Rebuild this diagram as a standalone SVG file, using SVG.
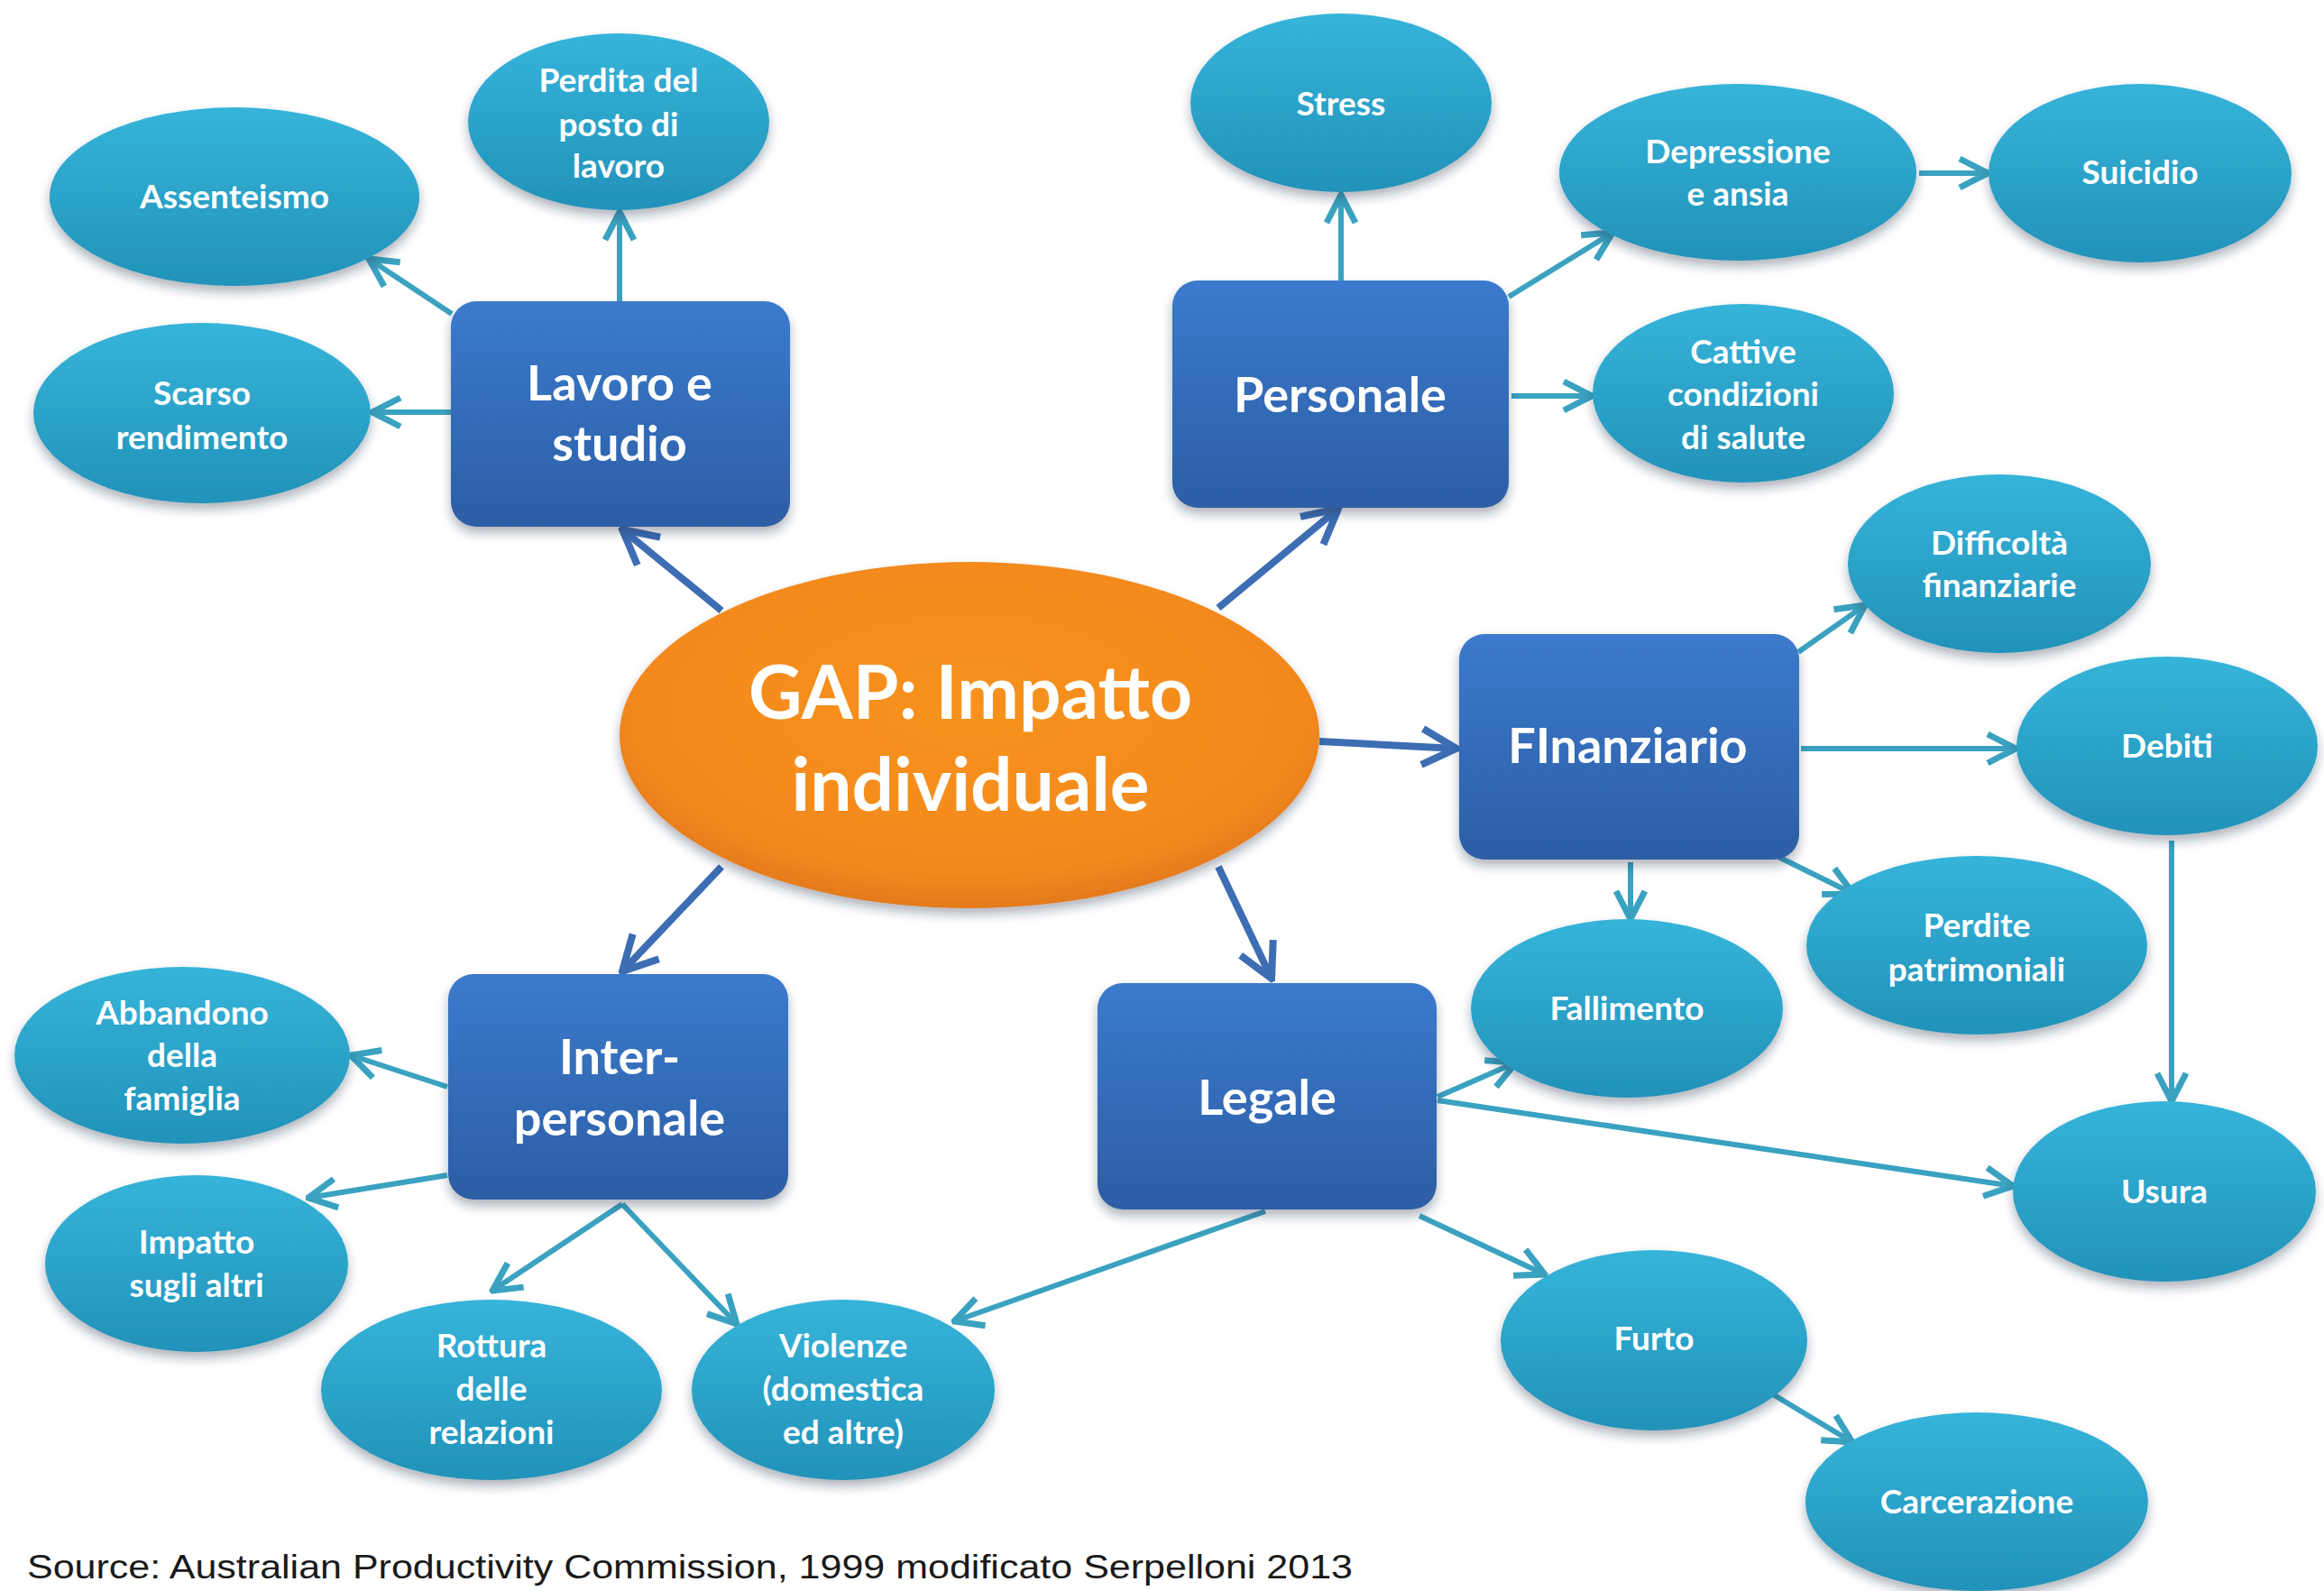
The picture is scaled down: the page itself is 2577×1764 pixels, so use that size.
<svg xmlns="http://www.w3.org/2000/svg" width="2577" height="1764" viewBox="0 0 2577 1764">
  <defs>
    <linearGradient id="gEll" x1="0" y1="0" x2="0" y2="1">
      <stop offset="0" stop-color="#36b4da"/>
      <stop offset="1" stop-color="#2292b9"/>
    </linearGradient>
    <linearGradient id="gBox" x1="0" y1="0" x2="0" y2="1">
      <stop offset="0" stop-color="#3b7acd"/>
      <stop offset="1" stop-color="#2d5ea5"/>
    </linearGradient>
    <radialGradient id="gHub" cx="0.5" cy="0.42" r="0.6">
      <stop offset="0" stop-color="#f7921f"/>
      <stop offset="0.8" stop-color="#f3891f"/>
      <stop offset="1" stop-color="#e0761b"/>
    </radialGradient>
    <filter id="shadow" x="-20%" y="-20%" width="140%" height="150%">
      <feDropShadow dx="0" dy="7" stdDeviation="6" flood-color="#1b2b40" flood-opacity="0.35"/>
    </filter>
    <marker id="arrBlue" markerUnits="userSpaceOnUse" viewBox="0 0 48 48" markerWidth="48" markerHeight="48" refX="44" refY="24" orient="auto">
      <path d="M6,4 L44,24 L6,44" fill="none" stroke="#3d6db3" stroke-width="8" stroke-linejoin="miter"/>
    </marker>
    <marker id="arrTeal" markerUnits="userSpaceOnUse" viewBox="0 0 40 40" markerWidth="40" markerHeight="40" refX="37" refY="20" orient="auto">
      <path d="M6,4 L37,20 L6,36" fill="none" stroke="#3aa2c0" stroke-width="7" stroke-linejoin="miter"/>
    </marker>
  </defs>
  <style>
    .ell { fill: url(#gEll); filter: url(#shadow); }
    .box { fill: url(#gBox); filter: url(#shadow); }
    .hub { fill: url(#gHub); filter: url(#shadow); }
    .lbl { font-family: Lato, "Open Sans", "DejaVu Sans", sans-serif; font-weight: 700; fill: #ffffff; text-anchor: middle; font-size: 37px; }
    .big { font-size: 54px; }
    .hubt { font-size: 82px; }
    .cb { fill: none; stroke: #3d6db3; stroke-width: 8; marker-end: url(#arrBlue); }
    .ct { fill: none; stroke: #3aa2c0; stroke-width: 6; marker-end: url(#arrTeal); }
    .src { font-family: "Liberation Sans", Arial, sans-serif; font-size: 36px; fill: #1a1a1a; }
  </style>

  <rect width="2577" height="1764" fill="#ffffff"/>

  <!-- connectors -->
  <g id="connectors">
    <!-- hub to categories -->
    <line class="cb" x1="800" y1="677" x2="690" y2="587"/>
    <line class="cb" x1="1351" y1="674" x2="1484" y2="564"/>
    <line class="cb" x1="1463" y1="822" x2="1615" y2="830"/>
    <line class="cb" x1="1351" y1="961" x2="1410" y2="1085"/>
    <line class="cb" x1="800" y1="961" x2="690" y2="1077"/>
    <!-- Lavoro e studio -->
    <line class="ct" x1="501" y1="348" x2="409" y2="287"/>
    <line class="ct" x1="687" y1="334" x2="687" y2="235"/>
    <line class="ct" x1="500" y1="457" x2="413" y2="457"/>
    <!-- Personale -->
    <line class="ct" x1="1487" y1="312" x2="1487" y2="216"/>
    <line class="ct" x1="1673" y1="329" x2="1788" y2="258"/>
    <line class="ct" x1="1676" y1="439" x2="1765" y2="439"/>
    <line class="ct" x1="2128" y1="192" x2="2204" y2="192"/>
    <!-- Finanziario -->
    <line class="ct" x1="1994" y1="723" x2="2068" y2="671"/>
    <line class="ct" x1="1997" y1="830" x2="2235" y2="830"/>
    <line class="ct" x1="1808" y1="956" x2="1808" y2="1019"/>
    <line class="ct" x1="1972" y1="950" x2="2055" y2="991"/>
    <line class="ct" x1="2408" y1="932" x2="2408" y2="1221"/>
    <!-- Legale -->
    <line class="ct" x1="1594" y1="1216" x2="1681" y2="1178"/>
    <line class="ct" x1="1594" y1="1220" x2="2232" y2="1315"/>
    <line class="ct" x1="1574" y1="1348" x2="1713" y2="1413"/>
    <line class="ct" x1="1403" y1="1343" x2="1058" y2="1465"/>
    <line class="ct" x1="1956" y1="1540" x2="2054" y2="1599"/>
    <!-- Inter-personale -->
    <line class="ct" x1="496" y1="1205" x2="389" y2="1170"/>
    <line class="ct" x1="496" y1="1303" x2="342" y2="1328"/>
    <line class="ct" x1="690" y1="1335" x2="546" y2="1431"/>
    <line class="ct" x1="690" y1="1335" x2="817" y2="1468"/>
  </g>

  <!-- central node -->
  <g id="hub">
    <ellipse class="hub" cx="1075" cy="815" rx="388" ry="192"/>
    <text class="lbl hubt" x="1076" y="797">GAP: Impatto</text>
    <text class="lbl hubt" x="1076" y="899">individuale</text>
  </g>

  <!-- category boxes -->
  <g id="lavoro">
    <rect class="box" x="500" y="334" width="376" height="250" rx="28"/>
    <text class="lbl big" x="687" y="444">Lavoro e</text>
    <text class="lbl big" x="687" y="511">studio</text>
  </g>
  <g id="personale">
    <rect class="box" x="1300" y="311" width="373" height="252" rx="28"/>
    <text class="lbl big" x="1486" y="457">Personale</text>
  </g>
  <g id="finanziario">
    <rect class="box" x="1618" y="703" width="377" height="250" rx="28"/>
    <text class="lbl big" x="1805" y="846">FInanziario</text>
  </g>
  <g id="legale">
    <rect class="box" x="1217" y="1090" width="376" height="251" rx="28"/>
    <text class="lbl big" x="1405" y="1236">Legale</text>
  </g>
  <g id="interpersonale">
    <rect class="box" x="497" y="1080" width="377" height="250" rx="28"/>
    <text class="lbl big" x="687" y="1191">Inter-</text>
    <text class="lbl big" x="687" y="1259">personale</text>
  </g>

  <!-- effect nodes -->
  <g id="assenteismo">
    <ellipse class="ell" cx="260" cy="218" rx="205" ry="99"/>
    <text class="lbl" x="260" y="231">Assenteismo</text>
  </g>
  <g id="perdita-lavoro">
    <ellipse class="ell" cx="686" cy="135" rx="167" ry="98"/>
    <text class="lbl" x="686" y="102">Perdita del</text>
    <text class="lbl" x="686" y="151">posto di</text>
    <text class="lbl" x="686" y="197">lavoro</text>
  </g>
  <g id="scarso-rendimento">
    <ellipse class="ell" cx="224" cy="458" rx="187" ry="100"/>
    <text class="lbl" x="224" y="449">Scarso</text>
    <text class="lbl" x="224" y="498">rendimento</text>
  </g>
  <g id="stress">
    <ellipse class="ell" cx="1487" cy="114" rx="167" ry="99"/>
    <text class="lbl" x="1487" y="128">Stress</text>
  </g>
  <g id="depressione">
    <ellipse class="ell" cx="1927" cy="191" rx="198" ry="98"/>
    <text class="lbl" x="1927" y="181">Depressione</text>
    <text class="lbl" x="1927" y="228">e ansia</text>
  </g>
  <g id="suicidio">
    <ellipse class="ell" cx="2373" cy="192" rx="168" ry="99"/>
    <text class="lbl" x="2373" y="204">Suicidio</text>
  </g>
  <g id="cattive-condizioni">
    <ellipse class="ell" cx="1933" cy="436" rx="167" ry="99"/>
    <text class="lbl" x="1933" y="403">Cattive</text>
    <text class="lbl" x="1933" y="450">condizioni</text>
    <text class="lbl" x="1933" y="498">di salute</text>
  </g>
  <g id="difficolta">
    <ellipse class="ell" cx="2217" cy="625" rx="168" ry="99"/>
    <text class="lbl" x="2217" y="615">Difficoltà</text>
    <text class="lbl" x="2217" y="662">finanziarie</text>
  </g>
  <g id="debiti">
    <ellipse class="ell" cx="2403" cy="827" rx="167" ry="99"/>
    <text class="lbl" x="2403" y="840">Debiti</text>
  </g>
  <g id="perdite-patrimoniali">
    <ellipse class="ell" cx="2192" cy="1048" rx="189" ry="99"/>
    <text class="lbl" x="2192" y="1039">Perdite</text>
    <text class="lbl" x="2192" y="1088">patrimoniali</text>
  </g>
  <g id="fallimento">
    <ellipse class="ell" cx="1804" cy="1118" rx="173" ry="99"/>
    <text class="lbl" x="1804" y="1131">Fallimento</text>
  </g>
  <g id="usura">
    <ellipse class="ell" cx="2400" cy="1321" rx="168" ry="100"/>
    <text class="lbl" x="2400" y="1334">Usura</text>
  </g>
  <g id="furto">
    <ellipse class="ell" cx="1834" cy="1486" rx="170" ry="100"/>
    <text class="lbl" x="1834" y="1497">Furto</text>
  </g>
  <g id="carcerazione">
    <ellipse class="ell" cx="2192" cy="1665" rx="190" ry="99"/>
    <text class="lbl" x="2192" y="1678">Carcerazione</text>
  </g>
  <g id="abbandono">
    <ellipse class="ell" cx="202" cy="1170" rx="186" ry="98"/>
    <text class="lbl" x="202" y="1136">Abbandono</text>
    <text class="lbl" x="202" y="1183">della</text>
    <text class="lbl" x="202" y="1231">famiglia</text>
  </g>
  <g id="impatto-altri">
    <ellipse class="ell" cx="218" cy="1401" rx="168" ry="98"/>
    <text class="lbl" x="218" y="1390">Impatto</text>
    <text class="lbl" x="218" y="1438">sugli altri</text>
  </g>
  <g id="rottura">
    <ellipse class="ell" cx="545" cy="1541" rx="189" ry="100"/>
    <text class="lbl" x="545" y="1505">Rottura</text>
    <text class="lbl" x="545" y="1553">delle</text>
    <text class="lbl" x="545" y="1601">relazioni</text>
  </g>
  <g id="violenze">
    <ellipse class="ell" cx="935" cy="1541" rx="168" ry="100"/>
    <text class="lbl" x="935" y="1505">Violenze</text>
    <text class="lbl" x="935" y="1553">(domestica</text>
    <text class="lbl" x="935" y="1601">ed altre)</text>
  </g>

  <text class="src" x="30" y="1750" textLength="1470" lengthAdjust="spacingAndGlyphs">Source: Australian Productivity Commission, 1999 modificato Serpelloni 2013</text>
</svg>
